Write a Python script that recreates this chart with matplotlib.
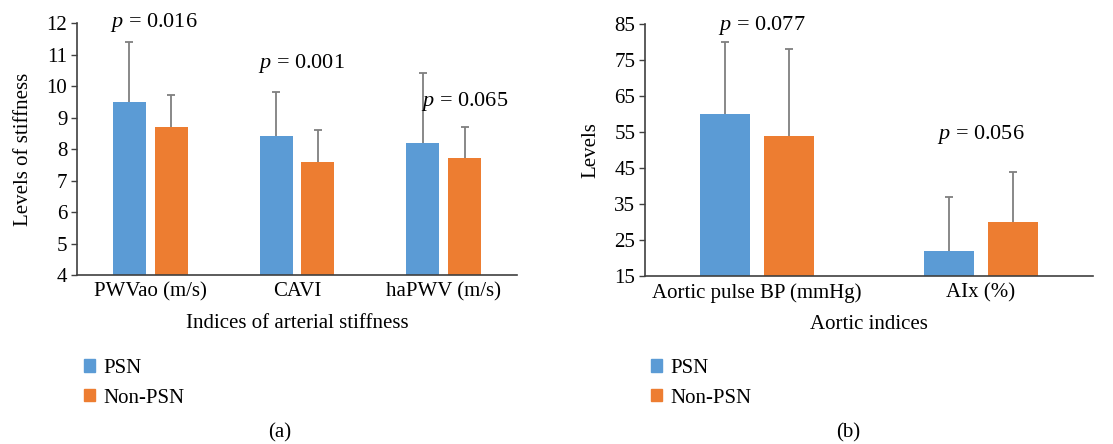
import numpy as np
import matplotlib.pyplot as plt
from matplotlib.patches import Patch

plt.rcParams['font.family'] = ['Liberation Serif', 'DejaVu Serif']
plt.rcParams['mathtext.fontset'] = 'custom'
plt.rcParams['mathtext.it'] = 'Liberation Serif:italic'
plt.rcParams['mathtext.rm'] = 'Liberation Serif'

# (a) arterial stiffness
cats_a = ['PWVao (m/s)', 'CAVI', 'haPWV (m/s)']
psn_a = [9.5, 8.4, 8.2]
non_a = [8.7, 7.6, 7.7]
psn_a_err = [1.9, 1.4, 2.2]
non_a_err = [1.0, 1.0, 1.0]
p_a = ['0.016', '0.001', '0.065']
p_a_x = [0.02, 1.03, 2.14]
p_a_y = [12.0, 10.7, 9.5]

# (b) aortic indices
cats_b = ['Aortic pulse BP (mmHg)', 'AIx (%)']
psn_b = [60, 22]
non_b = [54, 30]
psn_b_err = [20, 15]
non_b_err = [24, 14]
p_b = ['0.077', '0.056']
p_b_x = [0.02, 1.0]
p_b_y = [84.7, 54.2]

blue = '#5B9BD5'
orange = '#ED7D31'
errc = '#7F7F7F'
fs = 15

fig = plt.figure(figsize=(11.13, 4.44), dpi=100)
ax1 = fig.add_axes([0.0692, 0.3806, 0.3953, 0.5676])
ax2 = fig.add_axes([0.5795, 0.3784, 0.4025, 0.5675])

w = 0.225
off = 0.143


def draw(ax, cats, psn, non, perr, nerr, bottom):
    x = np.arange(len(cats))
    ax.bar(x - off, np.array(psn) - bottom, w, bottom=bottom, color=blue)
    ax.bar(x + off, np.array(non) - bottom, w, bottom=bottom, color=orange)
    for xs, vals, err in [(x - off, psn, perr), (x + off, non, nerr)]:
        eb = ax.errorbar(xs, vals, yerr=[np.zeros(len(x)), err], fmt='none',
                         ecolor=errc, elinewidth=1.3, capsize=3, capthick=1.3)
        eb[1][0].set_visible(False)
    ax.set_xlim(-0.5, len(cats) - 0.5)
    ax.set_xticks(x)
    ax.set_xticklabels(cats, fontsize=fs)
    ax.tick_params(axis='x', length=0, pad=5)
    ax.tick_params(axis='y', labelsize=fs, length=4, width=1, color='#404040', pad=3)
    for s in ['top', 'right']:
        ax.spines[s].set_visible(False)
    for s in ['left', 'bottom']:
        ax.spines[s].set_color('#404040')
        ax.spines[s].set_linewidth(1.2)


draw(ax1, cats_a, psn_a, non_a, psn_a_err, non_a_err, 4)
ax1.set_ylim(4, 12)
ax1.set_yticks(range(4, 13))
ax1.set_ylabel('Levels of stiffness', fontsize=fs, labelpad=10)
ax1.set_xlabel('Indices of arterial stiffness', fontsize=fs, labelpad=9)
for xx, yy, p in zip(p_a_x, p_a_y, p_a):
    ax1.text(xx, yy, r'$p$ = ' + p, fontsize=fs + 1, ha='center', va='center')

draw(ax2, cats_b, psn_b, non_b, psn_b_err, non_b_err, 15)
ax2.set_ylim(15, 85)
ax2.set_yticks(range(15, 86, 10))
ax2.set_ylabel('Levels', fontsize=fs, labelpad=10)
ax2.set_xlabel('Aortic indices', fontsize=fs, labelpad=9)
for xx, yy, p in zip(p_b_x, p_b_y, p_b):
    ax2.text(xx, yy, r'$p$ = ' + p, fontsize=fs + 1, ha='center', va='center')

handles = [Patch(color=blue, label='PSN'), Patch(color=orange, label='Non-PSN')]
for xpos in [0.068, 0.577]:
    fig.legend(handles=handles, loc='upper left', bbox_to_anchor=(xpos, 0.21),
               frameon=False, fontsize=fs, handlelength=0.55, handleheight=0.55,
               handletextpad=0.4, labelspacing=0.5, borderaxespad=0)

fig.text(280 / 1113, 1 - 433 / 444, '(a)', fontsize=fs, ha='center', va='center')
fig.text(848 / 1113, 1 - 433 / 444, '(b)', fontsize=fs, ha='center', va='center')

fig.savefig('out.png', dpi=100)
